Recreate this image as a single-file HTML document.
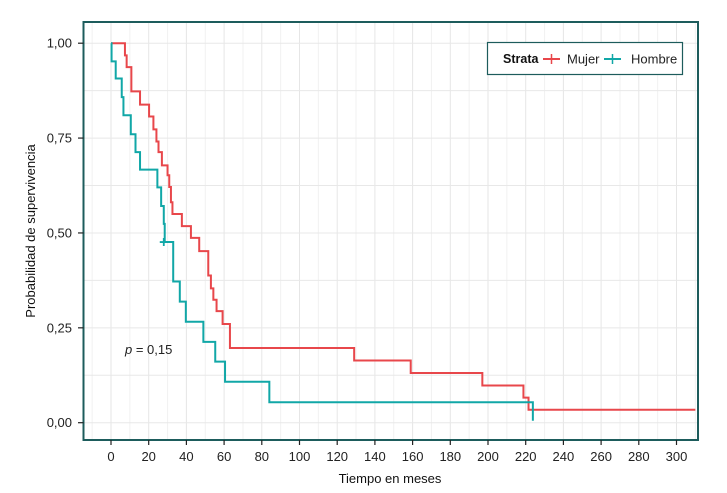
<!DOCTYPE html>
<html><head><meta charset="utf-8"><style>
body{margin:0;background:#fff;}
svg text{font-family:"Liberation Sans",sans-serif;}
</style></head><body>
<svg width="727" height="488" viewBox="0 0 727 488" xmlns="http://www.w3.org/2000/svg">
<g id="grid"></g>
<g id="series"></g>
<rect x="83.5" y="22" width="614.5" height="418" fill="none" stroke="#1d5c5c" stroke-width="2"/>
<g id="axes"></g>
<text x="125" y="354" font-size="13" fill="#222"><tspan font-style="italic">p</tspan> = 0,15</text>
<text x="390" y="483" font-size="13" text-anchor="middle" fill="#111">Tiempo en meses</text>
<text transform="translate(35,231) rotate(-90)" font-size="13" text-anchor="middle" fill="#111">Probabilidad de supervivencia</text>
<g>
<rect x="487.5" y="42.5" width="195" height="32" fill="#fff" stroke="#1d5c5c" stroke-width="1.2"/>
<text x="503" y="63" font-size="12.5" font-weight="bold" fill="#111">Strata</text>
<g><line x1="543" y1="59" x2="560" y2="59" stroke="#e8474b" stroke-width="2"/><line x1="551.5" y1="54" x2="551.5" y2="64" stroke="#e8474b" stroke-width="1.5"/><text x="567" y="63.5" font-size="13" fill="#222">Mujer</text></g>
<g><line x1="604" y1="59" x2="621" y2="59" stroke="#11a7a7" stroke-width="2"/><line x1="612.5" y1="54" x2="612.5" y2="64" stroke="#11a7a7" stroke-width="1.5"/><text x="631" y="63.5" font-size="13" fill="#222">Hombre</text></g>
</g>
</svg>
<script>
const xTicks=[0,20,40,60,80,100,120,140,160,180,200,220,240,260,280,300];
const yTicks=[0,0.25,0.5,0.75,1];
const yTickLabels=["0,00","0,25","0,50","0,75","1,00"];
const mujerTimes=[0,7.4,8.3,10.8,15.4,20.2,22.5,24.1,25.2,27,30,30.9,31.8,32.6,37.6,42.4,46.8,51.6,53,54.3,56,59.2,63.1,129,159,197,218.8,221.5,310];
const mujerSurv=[1,0.968,0.937,0.873,0.838,0.807,0.773,0.741,0.713,0.678,0.652,0.621,0.581,0.55,0.518,0.487,0.452,0.388,0.354,0.324,0.294,0.26,0.197,0.164,0.131,0.098,0.066,0.034,0.034];
const hombreTimes=[0,0.3,2.5,5.7,6.6,10.5,13,15.4,24.6,26.6,28,28.5,33,36.5,39.7,49,55.3,60.5,84,223.8];
const hombreSurv=[1,0.952,0.907,0.858,0.81,0.76,0.713,0.667,0.62,0.571,0.524,0.476,0.372,0.319,0.266,0.213,0.161,0.108,0.054,0.005];
const hombreCensorT=[28];
const hombreCensorS=[0.476];
const NS="http://www.w3.org/2000/svg";
const X=t=>111+t*1.885, Y=s=>422.7-s*379.5;
function mk(tag,attrs,parent){const e=document.createElementNS(NS,tag);for(const k in attrs)e.setAttribute(k,attrs[k]);parent.appendChild(e);return e;}
const grid=document.getElementById('grid'),axes=document.getElementById('axes'),series=document.getElementById('series');
for(let t=-10;t<=310;t+=10){const l=mk('line',{x1:X(t),x2:X(t),y1:22,y2:440,stroke:t%20===0?'#e6e6e6':'#f1f1f1','stroke-width':1},grid);

}
for(let s=0;s<=1.0001;s+=0.125){const l=mk('line',{x1:83.5,x2:698,y1:Y(s),y2:Y(s),stroke:'#e8e8e8','stroke-width':1},grid);

}
xTicks.forEach(t=>{const l=mk('line',{x1:X(t),x2:X(t),y1:440,y2:445,stroke:'#222','stroke-width':1.2},axes);


const tx=mk('text',{x:X(t),y:461,'font-size':13,'text-anchor':'middle',fill:'#222'},axes);tx.textContent=t;

});
yTicks.forEach((s,i)=>{const l=mk('line',{x1:78,x2:83.5,y1:Y(s),y2:Y(s),stroke:'#222','stroke-width':1.2},axes);


const tx=mk('text',{x:72,y:Y(s)+4.5,'font-size':13,'text-anchor':'end',fill:'#222'},axes);tx.textContent=yTickLabels[i];

});
function stepPath(ts,ss){let d='M'+X(ts[0])+','+Y(ss[0]);for(let i=1;i<ts.length;i++){d+=' H'+X(ts[i])+' V'+Y(ss[i]);}return d;}
const pm=mk('path',{d:stepPath(mujerTimes,mujerSurv),fill:'none',stroke:'#e8474b','stroke-width':2},series);


const ph=mk('path',{d:stepPath(hombreTimes,hombreSurv),fill:'none',stroke:'#11a7a7','stroke-width':2},series);


hombreCensorT.forEach((t,i)=>{const c=mk('path',{d:`M${X(t)-4},${Y(hombreCensorS[i])} h8 M${X(t)},${Y(hombreCensorS[i])-4} v8`,stroke:'#11a7a7','stroke-width':1.8},series);

});
</script>
</body></html>
